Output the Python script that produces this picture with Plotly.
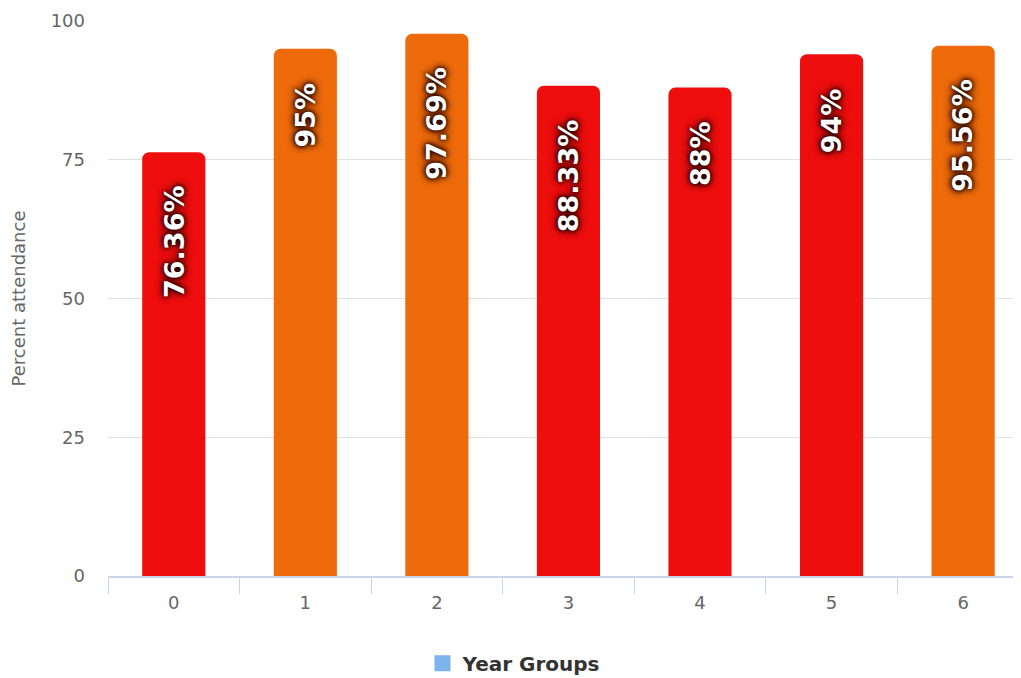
import plotly.graph_objects as go

categories = ["0", "1", "2", "3", "4", "5", "6"]
attendance = [76.36, 95, 97.69, 88.33, 88, 94, 95.56]
bar_colors = ["#ee0e0e", "#ee6b0b", "#ee6b0b", "#ee0e0e", "#ee0e0e", "#ee0e0e", "#ee6b0b"]
series_name = "Year Groups"
y_title = "Percent attendance"
y_ticks = [0, 25, 50, 75, 100]

fig = go.Figure()
fig.add_trace(go.Bar(
    x=categories, y=attendance, marker=dict(color=bar_colors, line=dict(width=0), cornerradius=7),
    width=0.48, showlegend=False, hoverinfo="skip",
))
fig.add_trace(go.Scatter(
    x=[None], y=[None], mode="markers", name=series_name,
    marker=dict(symbol="square", size=22, color="#7cb5ec"),
))

for c, v in zip(categories, attendance):
    fig.add_annotation(
        x=c, y=v, text=f"{v:g}%", showarrow=False, textangle=-90,
        yanchor="top", xanchor="center", yshift=-32,
        font=dict(family="DejaVu Sans", size=27, color="white", weight="bold",
                  shadow="0px 0px 4px #000, 0px 0px 7px #300, 0px 0px 10px rgba(60,0,0,0.8)"),
    )

fig.update_layout(
    width=1013, height=670,
    margin=dict(l=100, r=0, t=13, b=102),
    plot_bgcolor="white", paper_bgcolor="white",
    font=dict(family="DejaVu Sans", color="#666666", size=18),
    bargap=0.52,
    legend=dict(orientation="h", x=0.500, y=0.022, xref="container", yref="container",
                xanchor="center", yanchor="middle",
                font=dict(size=20, color="#333333", weight="bold"), itemsizing="trace"),
    xaxis=dict(type="category", range=[-0.5, 6.44], tickson="boundaries", ticks="outside",
               ticklen=16, tickcolor="#ccd6eb", showline=True, linecolor="#ccd6eb",
               linewidth=1.5, showgrid=False, ticklabelstandoff=10,
               tickfont=dict(size=18, color="#666666")),
    yaxis=dict(range=[0, 100], tickvals=y_ticks, gridcolor="#e0e0e0", gridwidth=1.2,
               zeroline=False, ticklabelstandoff=22, tickfont=dict(size=18, color="#666666"),
               title=dict(text=y_title, font=dict(size=18, color="#666666"), standoff=21)),
)

fig.write_html("out.html")
